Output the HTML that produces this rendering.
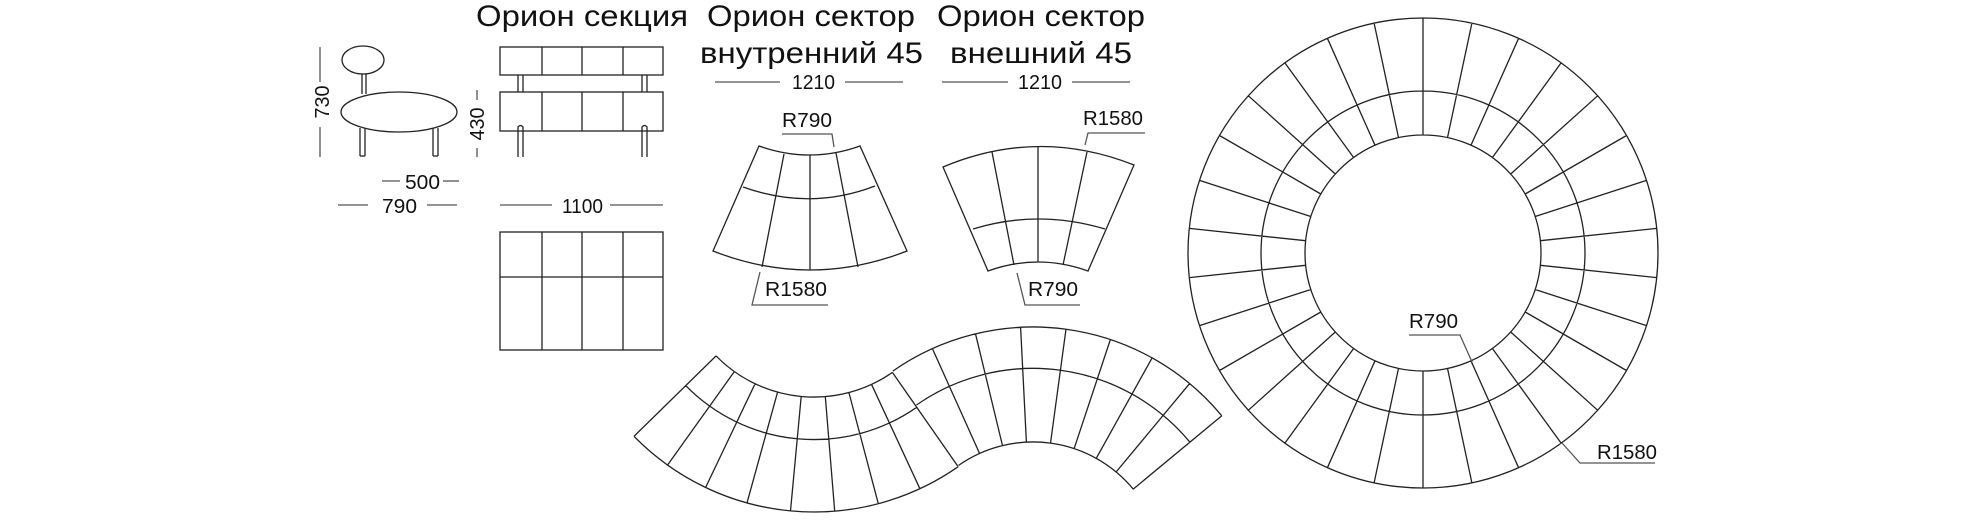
<!DOCTYPE html>
<html><head><meta charset="utf-8"><style>
html,body{margin:0;padding:0;background:#fff;width:1976px;height:525px;overflow:hidden}
svg{display:block}
text{font-family:"Liberation Sans",sans-serif;fill:#111}
</style></head><body>
<svg id="s" width="1976" height="525" viewBox="0 0 1976 525" xmlns="http://www.w3.org/2000/svg">
<g fill="none" stroke="#222" stroke-width="1.3">
<!-- chair side view -->
<ellipse cx="363" cy="60" rx="21" ry="14"/>
<line x1="362" y1="74" x2="362" y2="94"/><line x1="366" y1="74" x2="366" y2="94"/>
<ellipse cx="399" cy="112" rx="58" ry="20"/>
<line x1="360" y1="128" x2="360" y2="156"/><line x1="365" y1="128" x2="365" y2="156"/><line x1="360" y1="156" x2="365" y2="156"/>
<line x1="433" y1="128" x2="433" y2="156"/><line x1="438" y1="128" x2="438" y2="156"/><line x1="433" y1="156" x2="438" y2="156"/>
<!-- section front -->
<rect x="500" y="47" width="163" height="28"/>
<line x1="542" y1="47" x2="542" y2="75"/><line x1="582" y1="47" x2="582" y2="75"/><line x1="623" y1="47" x2="623" y2="75"/>
<line x1="518" y1="75" x2="518" y2="92"/><line x1="523" y1="75" x2="523" y2="92"/>
<line x1="642" y1="75" x2="642" y2="92"/><line x1="647" y1="75" x2="647" y2="92"/>
<rect x="500" y="92" width="163" height="39"/>
<line x1="542" y1="92" x2="542" y2="131"/><line x1="582" y1="92" x2="582" y2="131"/><line x1="623" y1="92" x2="623" y2="131"/>
<path d="M518 157V127Q520.5 124 523 127V157"/><path d="M642 157V127Q644.5 124 647 127V157"/>
<!-- section top -->
<rect x="500" y="232" width="163" height="118"/>
<line x1="500" y1="277" x2="663" y2="277"/>
<line x1="542" y1="232" x2="542" y2="350"/><line x1="582" y1="232" x2="582" y2="350"/><line x1="623" y1="232" x2="623" y2="350"/>
<!-- inner sector -->
<path d="M759 146 Q810 164 860 146 L907 251 Q810 289 713 251 Z"/>
<path d="M743 187 Q810 211 875 186"/>
<line x1="810" y1="155" x2="810" y2="270"/>
<line x1="784" y1="154" x2="762" y2="267"/>
<line x1="836" y1="153" x2="858" y2="267"/>
<!-- outer sector -->
<path d="M943 167 Q1038 127 1134 165 L1088 271 Q1038 253 988 271 Z"/>
<path d="M973 229 Q1038 209 1105 229"/>
<line x1="1038" y1="147" x2="1038" y2="262"/>
<line x1="992" y1="152" x2="1014" y2="265"/>
<line x1="1087" y1="152" x2="1063" y2="265"/>
<g id="dyn"></g>
</g>
<g fill="none" stroke="#555" stroke-width="1.3">
<!-- dims -->
<line x1="320" y1="47" x2="320" y2="82"/><line x1="320" y1="127" x2="320" y2="157"/>
<line x1="477" y1="90" x2="477" y2="100"/><line x1="477" y1="148" x2="477" y2="157"/>
<line x1="382" y1="181" x2="400" y2="181"/><line x1="443" y1="181" x2="459" y2="181"/>
<line x1="338" y1="205" x2="368" y2="205"/><line x1="427" y1="205" x2="457" y2="205"/>
<line x1="500" y1="205" x2="552" y2="205"/><line x1="610" y1="205" x2="663" y2="205"/>
<line x1="715" y1="82" x2="780" y2="82"/><line x1="845" y1="82" x2="903" y2="82"/>
<line x1="942" y1="82" x2="1008" y2="82"/><line x1="1072" y1="82" x2="1130" y2="82"/>
<!-- leaders -->
<polyline points="782,134 832,134 834,147"/>
<polyline points="760,272 752,305 828,305"/>
<polyline points="1085,145 1088,133 1145,133"/>
<polyline points="1017,273 1025,305 1080,305"/>
<polyline points="1409,335 1460,335 1472,362"/>
<polyline points="1562,443 1580,463 1655,463"/>
</g>
<g font-size="30">
<text x="476" y="26" textLength="212" lengthAdjust="spacingAndGlyphs">Орион секция</text>
<text x="707" y="26" textLength="208" lengthAdjust="spacingAndGlyphs">Орион сектор</text>
<text x="700" y="63" textLength="223" lengthAdjust="spacingAndGlyphs">внутренний 45</text>
<text x="937" y="26" textLength="208" lengthAdjust="spacingAndGlyphs">Орион сектор</text>
<text x="950" y="63" textLength="182" lengthAdjust="spacingAndGlyphs">внешний 45</text>
</g>
<g font-size="20">
<text x="792" y="89" textLength="43" lengthAdjust="spacingAndGlyphs">1210</text>
<text x="1018" y="89" textLength="44" lengthAdjust="spacingAndGlyphs">1210</text>
<text x="405" y="189" textLength="35" lengthAdjust="spacingAndGlyphs">500</text>
<text x="382" y="213" textLength="35" lengthAdjust="spacingAndGlyphs">790</text>
<text x="562" y="213" textLength="41" lengthAdjust="spacingAndGlyphs">1100</text>
<text x="782" y="127" textLength="50" lengthAdjust="spacingAndGlyphs">R790</text>
<text x="765" y="296" textLength="62" lengthAdjust="spacingAndGlyphs">R1580</text>
<text x="1083" y="125" textLength="60" lengthAdjust="spacingAndGlyphs">R1580</text>
<text x="1028" y="296" textLength="50" lengthAdjust="spacingAndGlyphs">R790</text>
<text x="1409" y="328" textLength="49" lengthAdjust="spacingAndGlyphs">R790</text>
<text x="1597" y="459" textLength="60" lengthAdjust="spacingAndGlyphs">R1580</text>
<text transform="translate(329,102) rotate(-90)" text-anchor="middle" textLength="33" lengthAdjust="spacingAndGlyphs">730</text>
<text transform="translate(484,124) rotate(-90)" text-anchor="middle" textLength="33" lengthAdjust="spacingAndGlyphs">430</text>
</g>
</svg>
<script>
(function(){
var g=document.getElementById('dyn'),ns='http://www.w3.org/2000/svg',d='';
function P(c,r,a){a=a*Math.PI/180;return [c[0]+r*Math.cos(a),c[1]+r*Math.sin(a)];}
function f(p){return p[0].toFixed(1)+' '+p[1].toFixed(1);}
function arc(c,r,a0,a1){var p0=P(c,r,a0),p1=P(c,r,a1);var sw=a1>a0?1:0;var lg=Math.abs(a1-a0)>180?1:0;return 'M'+f(p0)+'A'+r+' '+r+' 0 '+lg+' '+sw+' '+f(p1);}
function ln(c,r0,r1,a){return 'M'+f(P(c,r0,a))+'L'+f(P(c,r1,a));}
// ring
var C=[1423,253];
d+='M'+(C[0]-235)+' '+C[1]+'a235 235 0 1 0 470 0a235 235 0 1 0 -470 0';
d+='M'+(C[0]-162)+' '+C[1]+'a162 162 0 1 0 324 0a162 162 0 1 0 -324 0';
d+='M'+(C[0]-118)+' '+C[1]+'a118 118 0 1 0 236 0a118 118 0 1 0 -236 0';
for(var k=0;k<30;k++){d+=ln(C,118,235,-90+12*k);}
// wave
var C1=[814,260],C2=[1033,572];
var r1i=137,r1o=252,r1m=137+0.37*115,r2i=130,r2o=245,r2m=245-0.36*115;
var a0=135.6,a1=55.1,b0=-124.9,b1=-39.6;
d+=arc(C1,r1i,a0,a1)+arc(C1,r1m,a0,a1)+arc(C1,r1o,a0,a1);
d+=arc(C2,r2i,b0,b1)+arc(C2,r2m,b0,b1)+arc(C2,r2o,b0,b1);
for(var i=0;i<=8;i++){d+=ln(C1,r1i,r1o,a0+(a1-a0)*i/8);}
for(var j=1;j<=8;j++){d+=ln(C2,r2i,r2o,b0+(b1-b0)*j/8);}
var p=document.createElementNS(ns,'path');p.setAttribute('d',d);g.appendChild(p);
})();
</script>
</body></html>
